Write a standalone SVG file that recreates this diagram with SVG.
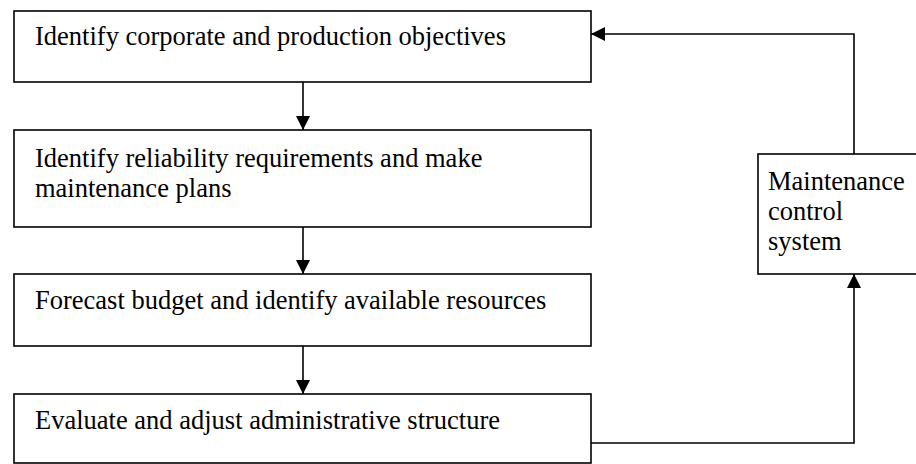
<svg xmlns="http://www.w3.org/2000/svg" width="916" height="464" viewBox="0 0 916 464">
<style>
.box{fill:#fff;stroke:#000;stroke-width:1.6}
.t{font-family:"Liberation Serif","Times New Roman",serif;font-size:26.5px;fill:#000}
.c{fill:none;stroke:#000;stroke-width:1.6}
</style>
<defs>
<marker id="ah" viewBox="0 0 14 14" refX="14" refY="7" markerWidth="14" markerHeight="14" markerUnits="userSpaceOnUse" orient="auto">
<path d="M0,0 L14,7 L0,14 Z" fill="#000"/>
</marker>
</defs>
<g id="n1"><rect class="box" x="14" y="11" width="577" height="71"/><text class="t" x="35" y="45">Identify corporate and production objectives</text></g>
<g id="n2"><rect class="box" x="14" y="130" width="577" height="97"/><text class="t" x="35" y="167">Identify reliability requirements and make</text><text class="t" x="35" y="197">maintenance plans</text></g>
<g id="n3"><rect class="box" x="14" y="274" width="577" height="72"/><text class="t" x="35" y="309">Forecast budget and identify available resources</text></g>
<g id="n4"><rect class="box" x="14" y="394" width="577" height="69"/><text class="t" x="35" y="429">Evaluate and adjust administrative structure</text></g>
<g id="n5"><rect class="box" x="758" y="154" width="170" height="120"/><text class="t" x="768" y="190">Maintenance</text><text class="t" x="768" y="220">control</text><text class="t" x="768" y="250">system</text></g>
<g id="connectors">
<path class="c" d="M303,82 V130" marker-end="url(#ah)"/>
<path class="c" d="M303,227 V274" marker-end="url(#ah)"/>
<path class="c" d="M303,346 V394" marker-end="url(#ah)"/>
<path class="c" d="M591,443 H854 V274" marker-end="url(#ah)"/>
<path class="c" d="M854,154 V34 H591" marker-end="url(#ah)"/>
</g>
</svg>
